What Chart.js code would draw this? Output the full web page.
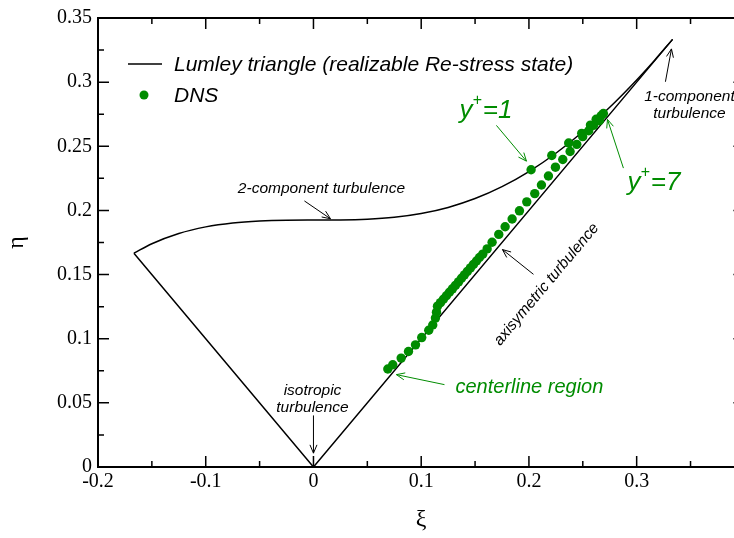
<!DOCTYPE html>
<html>
<head>
<meta charset="utf-8">
<script src="https://cdn.jsdelivr.net/npm/chart.js@4.4.0/dist/chart.umd.min.js"></script>
<style>
  html, body { margin: 0; padding: 0; background: #fff; overflow: hidden; }
  #wrap { width: 770px; height: 538px; }
</style>
</head>
<body>
<div id="wrap"><canvas id="lumley" width="770" height="538"></canvas></div>
<script>
// Lumley triangle: straight sides (axisymmetric limits)
const sideXi = [-0.16667, 0, 0.33333]
const sideEta = [0.16667, 0, 0.33333]

// two-component limit
const curveXi = [-0.16667, -0.15, -0.125, -0.1, -0.075, -0.05, -0.025, 0, 0.025, 0.05, 0.075, 0.1,
  0.125, 0.15, 0.175, 0.2, 0.225, 0.25, 0.275, 0.3, 0.3167, 0.33333]
const curveEta = [0.16667, 0.17403, 0.18202, 0.18718, 0.19025, 0.1918, 0.19237, 0.19245, 0.19253, 0.1931, 0.19463, 0.19758,
  0.20234, 0.20925, 0.21853, 0.2303, 0.24458, 0.26132, 0.28041, 0.30172, 0.31712, 0.33333]

// DNS invariants, wall (y+=1) -> peak (y+=7) -> centerline
const dnsXi = [
  0.2020, 0.2212, 0.2369, 0.2490, 0.2571, 0.2624, 0.2670, 0.2691,
  0.2654, 0.2599, 0.2555, 0.2499, 0.2444, 0.2382, 0.2314, 0.2246, 0.2181, 0.2116, 0.2054, 0.1980,
  0.1912, 0.1844, 0.1779, 0.1720, 0.1658, 0.1612, 0.1571, 0.1541, 0.1513, 0.1485, 0.1457, 0.1429,
  0.1401, 0.1374, 0.1346, 0.1318, 0.1290, 0.1262, 0.1234, 0.1206, 0.1179, 0.1151, 0.1142, 0.1132,
  0.1107, 0.1070, 0.1005, 0.0947, 0.0882, 0.0814, 0.0736, 0.0690
]
const dnsEta = [
  0.2317, 0.2428, 0.2526, 0.2601, 0.2665, 0.2711, 0.2738, 0.2755,
  0.2699, 0.2663, 0.2621, 0.2575, 0.2515, 0.2459, 0.2397, 0.2337, 0.2268, 0.2198, 0.2131, 0.2067,
  0.1997, 0.1933, 0.1873, 0.1813, 0.1752, 0.1700, 0.1659, 0.1633, 0.1606, 0.1579, 0.1552, 0.1525,
  0.1498, 0.1471, 0.1443, 0.1416, 0.1389, 0.1362, 0.1335, 0.1308, 0.1281, 0.1254, 0.1207, 0.1161,
  0.1107, 0.1066, 0.1009, 0.0952, 0.0900, 0.0849, 0.0797, 0.0764
]

const xTickVals = [-0.2, -0.1, 0, 0.1, 0.2, 0.3]
const xMinorVals = [-0.15, -0.05, 0.05, 0.15, 0.25, 0.35]
const yTickVals = [0, 0.05, 0.1, 0.15, 0.2, 0.25, 0.3, 0.35]
const yMinorVals = [0.025, 0.075, 0.125, 0.175, 0.225, 0.275, 0.325]

const GREEN = "#008c00"
const SERIF = '"Liberation Serif", "Times New Roman", serif'
const SANS = '"Liberation Sans", Arial, sans-serif'

const toPts = (xs, ys) => xs.map((v, i) => ({ x: v, y: ys[i] }))

function arrow(ctx, x1, y1, x2, y2, color) {
  const ang = Math.atan2(y2 - y1, x2 - x1)
  const h = 9
  ctx.strokeStyle = color
  ctx.lineWidth = 1
  ctx.beginPath()
  ctx.moveTo(x1, y1)
  ctx.lineTo(x2, y2)
  ctx.moveTo(x2 - h * Math.cos(ang - 0.4), y2 - h * Math.sin(ang - 0.4))
  ctx.lineTo(x2, y2)
  ctx.lineTo(x2 - h * Math.cos(ang + 0.4), y2 - h * Math.sin(ang + 0.4))
  ctx.stroke()
}

function yPlus(ctx, px, py, num) {
  ctx.fillStyle = GREEN
  ctx.textAlign = "left"
  ctx.textBaseline = "alphabetic"
  ctx.font = `italic 26px ${SANS}`
  ctx.fillText("y", px, py)
  let w = ctx.measureText("y").width
  ctx.font = `italic 16px ${SANS}`
  ctx.fillText("+", px + w, py - 13)
  w += ctx.measureText("+").width
  ctx.font = `italic 26px ${SANS}`
  ctx.fillText("=" + num, px + w + 1, py)
}

const decor = {
  id: "decor",
  afterDatasetsDraw(chart) {
    const { ctx, chartArea: a, scales } = chart
    const X = (v) => scales.x.getPixelForValue(v)
    const Y = (v) => scales.y.getPixelForValue(v)
    ctx.save()

    // frame
    ctx.strokeStyle = "#000"
    ctx.lineWidth = 2
    ctx.strokeRect(a.left, a.top, a.right - a.left, a.bottom - a.top)

    // inward ticks on all four sides
    ctx.lineWidth = 1.5
    ctx.beginPath()
    const xt = [...xTickVals.map((v) => [v, 11]), [0.4, 11], ...xMinorVals.map((v) => [v, 6])]
    xt.forEach(([v, len]) => {
      const px = X(v)
      ctx.moveTo(px, a.bottom); ctx.lineTo(px, a.bottom - len)
      ctx.moveTo(px, a.top); ctx.lineTo(px, a.top + len)
    })
    const yt = [...yTickVals.map((v) => [v, 11]), ...yMinorVals.map((v) => [v, 6])]
    yt.forEach(([v, len]) => {
      const py = Y(v)
      ctx.moveTo(a.left, py); ctx.lineTo(a.left + len, py)
      ctx.moveTo(a.right, py); ctx.lineTo(a.right - len, py)
    })
    ctx.stroke()

    // legend
    ctx.lineWidth = 1.5
    ctx.beginPath()
    ctx.moveTo(a.left + 30, a.top + 46)
    ctx.lineTo(a.left + 64, a.top + 46)
    ctx.stroke()
    ctx.fillStyle = GREEN
    ctx.beginPath()
    ctx.arc(a.left + 46, a.top + 77, 4.5, 0, Math.PI * 2)
    ctx.fill()
    ctx.fillStyle = "#000"
    ctx.font = `italic 21px ${SANS}`
    ctx.textAlign = "left"
    ctx.textBaseline = "alphabetic"
    ctx.fillText("Lumley triangle (realizable Re-stress state)", a.left + 76, a.top + 53)
    ctx.fillText("DNS", a.left + 76, a.top + 84)

    // black annotations
    ctx.font = `italic 15.5px ${SANS}`
    ctx.textAlign = "center"
    ctx.fillText("1-component", X(0.349), Y(0.2856))
    ctx.fillText("turbulence", X(0.349), Y(0.2724))
    ctx.fillText("2-component turbulence", X(0.0074), Y(0.2136))
    ctx.fillText("isotropic", X(-0.0009), Y(0.0565))
    ctx.fillText("turbulence", X(-0.0009), Y(0.0426))
    ctx.save()
    ctx.translate(X(0.2162), Y(0.1424))
    ctx.rotate(-50 * Math.PI / 180)
    ctx.textBaseline = "middle"
    ctx.fillText("axisymetric turbulence", 0, 0)
    ctx.restore()

    arrow(ctx, X(0.3267), Y(0.3003), X(0.3323), Y(0.3259), "#000")
    arrow(ctx, X(-0.0084), Y(0.2074), X(0.0158), Y(0.1935), "#000")
    arrow(ctx, X(0), Y(0.0402), X(0), Y(0.0108), "#000")
    arrow(ctx, X(0.2042), Y(0.1502), X(0.1754), Y(0.1695), "#000")

    // green annotations
    yPlus(ctx, X(0.1355), Y(0.2724), "1")
    yPlus(ctx, X(0.2914), Y(0.2159), "7")
    ctx.fillStyle = GREEN
    ctx.font = `italic 20px ${SANS}`
    ctx.textAlign = "left"
    ctx.fillText("centerline region", X(0.1318), Y(0.058))
    arrow(ctx, X(0.1698), Y(0.2663), X(0.1977), Y(0.2384), GREEN)
    arrow(ctx, X(0.2877), Y(0.233), X(0.2729), Y(0.2709), GREEN)
    arrow(ctx, X(0.1216), Y(0.0642), X(0.077), Y(0.072), GREEN)

    ctx.restore()
  },
}

new Chart(document.getElementById("lumley"), {
  type: "scatter",
  data: {
    datasets: [
      {
        label: "DNS",
        data: toPts(dnsXi, dnsEta),
        backgroundColor: GREEN,
        borderWidth: 0,
        pointRadius: 4.7,
        order: 0,
      },
      {
        label: "Lumley triangle (realizable Re-stress state)",
        data: toPts(sideXi, sideEta),
        showLine: true,
        borderColor: "#000",
        borderWidth: 1.5,
        pointRadius: 0,
        order: 1,
      },
      {
        label: "two-component limit",
        data: toPts(curveXi, curveEta),
        showLine: true,
        borderColor: "#000",
        borderWidth: 1.5,
        pointRadius: 0,
        cubicInterpolationMode: "monotone",
        order: 1,
      },
    ],
  },
  options: {
    responsive: false,
    animation: false,
    layout: { padding: { top: 15, right: 25.6, left: 0, bottom: 0 } },
    plugins: { legend: { display: false }, tooltip: { enabled: false } },
    scales: {
      x: {
        type: "linear",
        min: -0.2,
        max: 0.4,
        afterBuildTicks: (s) => { s.ticks = xTickVals.map((v) => ({ value: v })) },
        afterFit: (s) => { s.height = 71 },
        grid: { display: false, drawTicks: false },
        border: { display: false },
        ticks: {
          color: "#000",
          padding: 3,
          maxRotation: 0,
          font: { family: SERIF, size: 20 },
          callback: (v) => String(Math.round(v * 100) / 100),
        },
        title: { display: true, text: "ξ", color: "#000", font: { family: SERIF, size: 24 }, padding: { top: 0, bottom: 4 } },
      },
      y: {
        type: "linear",
        min: 0,
        max: 0.35,
        afterBuildTicks: (s) => { s.ticks = yTickVals.map((v) => ({ value: v })) },
        afterFit: (s) => { s.width = 98 },
        grid: { display: false, drawTicks: false },
        border: { display: false },
        ticks: {
          color: "#000",
          padding: 6,
          font: { family: SERIF, size: 20 },
          callback: (v) => String(Math.round(v * 1000) / 1000),
        },
        title: { display: true, text: "η", color: "#000", font: { family: SERIF, size: 24 }, padding: { top: 2, bottom: 0 } },
      },
    },
  },
  plugins: [decor],
})
</script>
</body>
</html>
